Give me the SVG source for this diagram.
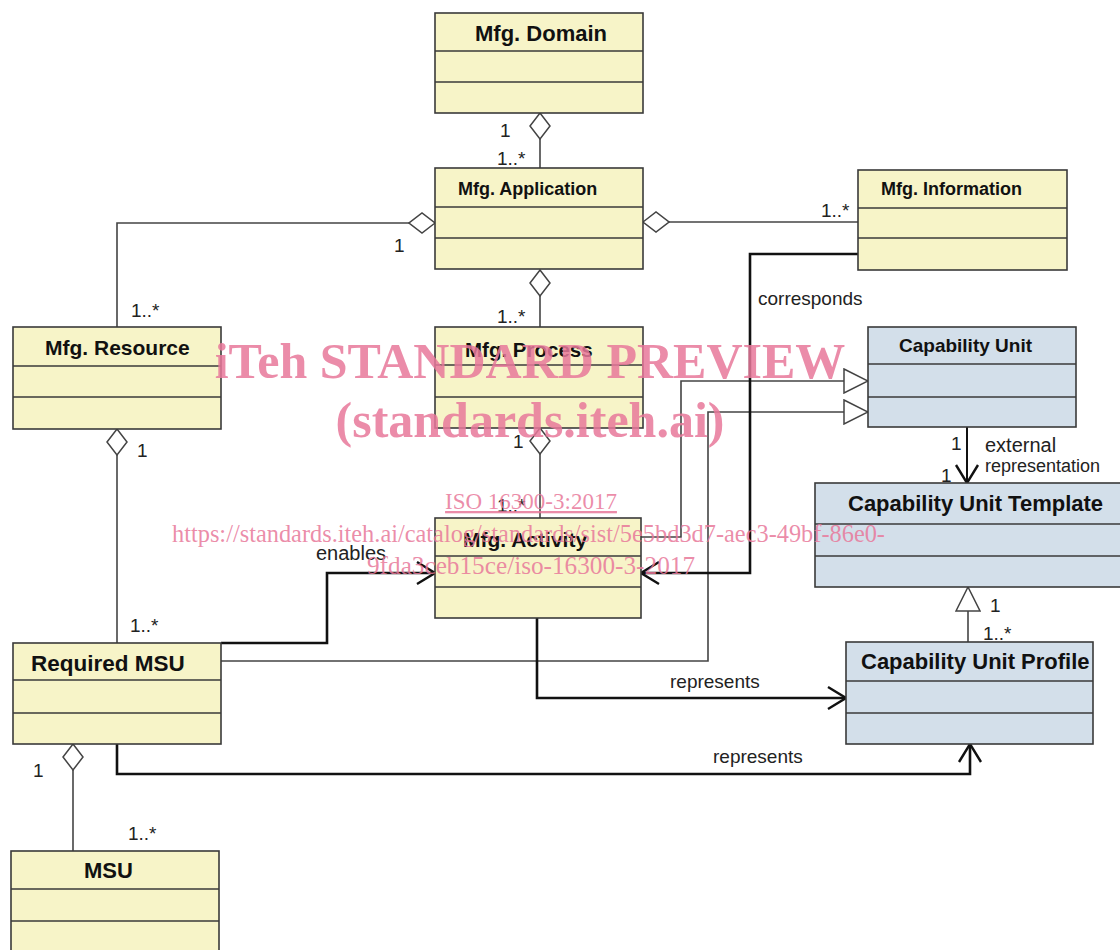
<svg xmlns="http://www.w3.org/2000/svg" width="1120" height="950" viewBox="0 0 1120 950">
<style>
.y{fill:#f7f4c8;stroke:#3a3a3a;stroke-width:1.6}
.b{fill:#d3dfea;stroke:#3a3a3a;stroke-width:1.6}
.dv{stroke:#3a3a3a;stroke-width:1.6}
.t{font-family:"Liberation Sans",Arial,sans-serif;font-weight:bold;fill:#111}
.l{font-family:"Liberation Sans",Arial,sans-serif;fill:#222;font-size:19px}
.thin{fill:none;stroke:#444;stroke-width:1.6}
.thick{fill:none;stroke:#111;stroke-width:2.6}
.wm{font-family:"Liberation Serif","Times New Roman",serif;fill:#e8789a;fill-opacity:0.85}
</style>
<defs>
<marker id="dia" markerUnits="userSpaceOnUse" viewBox="0 0 28 22" markerWidth="28" markerHeight="22" refX="1" refY="11" orient="auto">
<path d="M1,11 L14,1 L27,11 L14,21 Z" fill="#fff" stroke="#444" stroke-width="1.5"/>
</marker>
<marker id="tri" markerUnits="userSpaceOnUse" viewBox="0 0 26 26" markerWidth="26" markerHeight="26" refX="25" refY="13" orient="auto">
<path d="M1,1 L25,13 L1,25 Z" fill="#fff" stroke="#444" stroke-width="1.5"/>
</marker>
<marker id="arr" markerUnits="userSpaceOnUse" viewBox="0 0 22 26" markerWidth="22" markerHeight="26" refX="20" refY="13" orient="auto">
<path d="M2,2 L20,13 L2,24" fill="none" stroke="#111" stroke-width="2.4"/>
</marker>
</defs>
<rect width="1120" height="950" fill="#fff"/>

<g id="connectors">
<path class="thin" d="M540,113 L540,168" marker-start="url(#dia)"/>
<path class="thin" d="M435,223 L117,223 L117,327" marker-start="url(#dia)"/>
<path class="thin" d="M643,222 L858,222" marker-start="url(#dia)"/>
<path class="thin" d="M540,270 L540,327" marker-start="url(#dia)"/>
<path class="thin" d="M540,428 L540,518" marker-start="url(#dia)"/>
<path class="thin" d="M117,429 L117,643" marker-start="url(#dia)"/>
<path class="thin" d="M73,744 L73,851" marker-start="url(#dia)"/>
<path class="thin" d="M641,537 L681,537 L681,381 L868,381" marker-end="url(#tri)"/>
<path class="thin" d="M221,661 L708,661 L708,412 L868,412" marker-end="url(#tri)"/>
<path class="thin" d="M968,642 L968,587" marker-end="url(#tri)"/>
<path class="thick" d="M221,643 L327,643 L327,573 L435,573" marker-end="url(#arr)"/>
<path class="thick" d="M858,254 L750,254 L750,573 L641,573" marker-end="url(#arr)"/>
<path class="thick" d="M537,618 L537,698 L846,698" marker-end="url(#arr)"/>
<path class="thick" d="M117,744 L117,774 L970,774 L970,744" marker-end="url(#arr)"/>
<path class="thin" style="stroke:#111;stroke-width:2" d="M967,427 L967,483" marker-end="url(#arr)"/>
<text class="l" x="500" y="137">1</text>
<text class="l" x="497" y="165">1..*</text>
<text class="l" x="394" y="252">1</text>
<text class="l" x="131" y="317">1..*</text>
<text class="l" x="821" y="217">1..*</text>
<text class="l" x="497" y="323">1..*</text>
<text class="l" x="513" y="448">1</text>
<text class="l" x="497" y="512">1..*</text>
<text class="l" x="137" y="457">1</text>
<text class="l" x="130" y="632">1..*</text>
<text class="l" x="33" y="777">1</text>
<text class="l" x="128" y="840">1..*</text>
<text class="l" x="316" y="560" style="font-size:20px">enables</text>
<text class="l" x="758" y="305">corresponds</text>
<text class="l" x="951" y="450">1</text>
<text class="l" x="941" y="482">1</text>
<text class="l" x="985" y="452" style="font-size:20px">external</text>
<text class="l" x="985" y="472" style="font-size:18px">representation</text>
<text class="l" x="990" y="612">1</text>
<text class="l" x="983" y="640">1..*</text>
<text class="l" x="670" y="688">represents</text>
<text class="l" x="713" y="763">represents</text>
</g>

<g id="mfg-domain">
<rect class="y" x="435" y="13" width="208" height="100"/>
<line class="dv" x1="435" y1="51" x2="643" y2="51"/>
<line class="dv" x1="435" y1="82" x2="643" y2="82"/>
<text class="t" x="541" y="41" text-anchor="middle" font-size="22">Mfg. Domain</text>
</g>
<g id="mfg-application">
<rect class="y" x="435" y="168" width="208" height="101"/>
<line class="dv" x1="435" y1="207" x2="643" y2="207"/>
<line class="dv" x1="435" y1="238" x2="643" y2="238"/>
<text class="t" x="458" y="195" font-size="18">Mfg. Application</text>
</g>
<g id="mfg-information">
<rect class="y" x="858" y="170" width="209" height="100"/>
<line class="dv" x1="858" y1="208" x2="1067" y2="208"/>
<line class="dv" x1="858" y1="238" x2="1067" y2="238"/>
<text class="t" x="881" y="195" font-size="18">Mfg. Information</text>
</g>
<g id="mfg-resource">
<rect class="y" x="13" y="327" width="208" height="102"/>
<line class="dv" x1="13" y1="366" x2="221" y2="366"/>
<line class="dv" x1="13" y1="397" x2="221" y2="397"/>
<text class="t" x="45" y="355" font-size="21">Mfg. Resource</text>
</g>
<g id="mfg-process">
<rect class="y" x="435" y="327" width="208" height="101"/>
<line class="dv" x1="435" y1="365" x2="643" y2="365"/>
<line class="dv" x1="435" y1="397" x2="643" y2="397"/>
<text class="t" x="465" y="357" font-size="20.5">Mfg. Process</text>
</g>
<g id="mfg-activity">
<rect class="y" x="435" y="518" width="206" height="100"/>
<line class="dv" x1="435" y1="556" x2="641" y2="556"/>
<line class="dv" x1="435" y1="587" x2="641" y2="587"/>
<text class="t" x="463" y="547" font-size="21">Mfg. Activity</text>
</g>
<g id="required-msu">
<rect class="y" x="13" y="643" width="208" height="101"/>
<line class="dv" x1="13" y1="680" x2="221" y2="680"/>
<line class="dv" x1="13" y1="713" x2="221" y2="713"/>
<text class="t" x="31" y="671" font-size="22.5">Required MSU</text>
</g>
<g id="msu">
<rect class="y" x="11" y="851" width="208" height="120"/>
<line class="dv" x1="11" y1="889" x2="219" y2="889"/>
<line class="dv" x1="11" y1="921" x2="219" y2="921"/>
<text class="t" x="84" y="878" font-size="22">MSU</text>
</g>
<g id="capability-unit">
<rect class="b" x="868" y="327" width="208" height="100"/>
<line class="dv" x1="868" y1="364" x2="1076" y2="364"/>
<line class="dv" x1="868" y1="397" x2="1076" y2="397"/>
<text class="t" x="899" y="352" font-size="19">Capability Unit</text>
</g>
<g id="capability-unit-template">
<rect class="b" x="815" y="483" width="320" height="104"/>
<line class="dv" x1="815" y1="524" x2="1135" y2="524"/>
<line class="dv" x1="815" y1="556" x2="1135" y2="556"/>
<text class="t" x="848" y="511" font-size="22">Capability Unit Template</text>
</g>
<g id="capability-unit-profile">
<rect class="b" x="846" y="642" width="247" height="102"/>
<line class="dv" x1="846" y1="681" x2="1093" y2="681"/>
<line class="dv" x1="846" y1="713" x2="1093" y2="713"/>
<text class="t" x="861" y="669" font-size="22">Capability Unit Profile</text>
</g>

<g id="watermark">
<text class="wm" x="530" y="378" text-anchor="middle" font-size="50" font-weight="bold">iTeh STANDARD PREVIEW</text>
<text class="wm" x="530" y="437" text-anchor="middle" font-size="50" font-weight="bold">(standards.iteh.ai)</text>
<text class="wm" x="531" y="509" text-anchor="middle" font-size="23" text-decoration="underline">ISO 16300-3:2017</text>
<text class="wm" x="172" y="542" font-size="25" textLength="713" lengthAdjust="spacingAndGlyphs">https://standards.iteh.ai/catalog/standards/sist/5e5bd3d7-aec3-49bf-86e0-</text>
<text class="wm" x="367" y="574" font-size="25" textLength="328" lengthAdjust="spacingAndGlyphs">9fda3ceb15ce/iso-16300-3-2017</text>
</g>
</svg>
